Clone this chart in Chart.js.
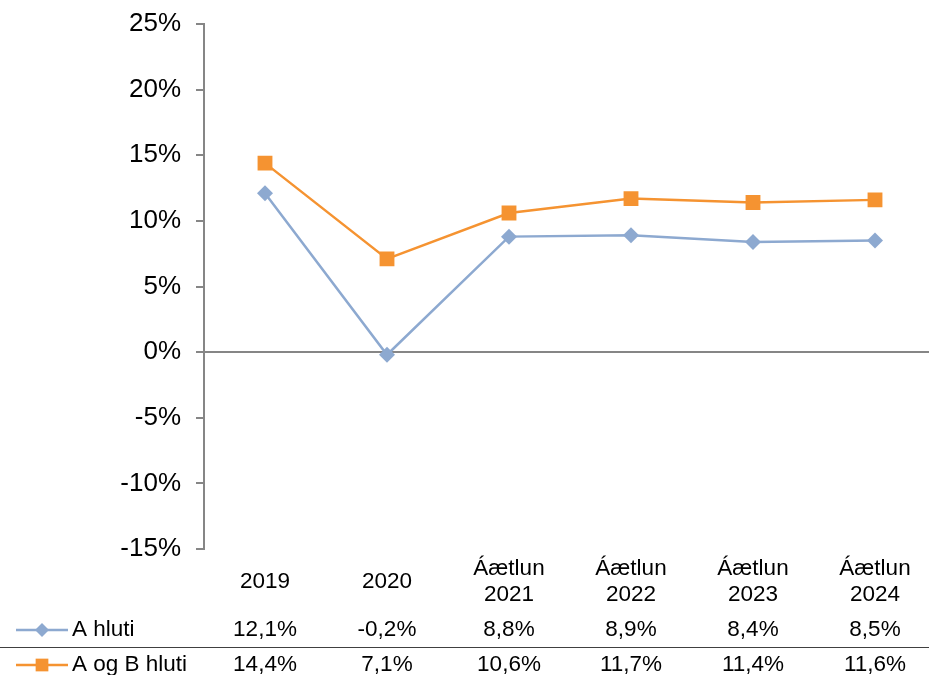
<!DOCTYPE html>
<html>
<head>
<meta charset="utf-8">
<script src="https://cdn.jsdelivr.net/npm/chart.js@4"></script>
<style>
  html, body { margin: 0; padding: 0; background: #ffffff; overflow: hidden; }
  #wrap { width: 960px; height: 675px; }
</style>
</head>
<body>
<div id="wrap"><canvas id="chart" width="960" height="675" style="width:960px;height:675px"></canvas></div>
<script>
// Gögn lesin af myndinni
const categories = [['2019'], ['2020'], ['Áætlun', '2021'], ['Áætlun', '2022'], ['Áætlun', '2023'], ['Áætlun', '2024']];
const seriesNames = ['A hluti', 'A og B hluti'];
const aHluti = [12.1, -0.2, 8.8, 8.9, 8.4, 8.5];
const aogBHluti = [14.4, 7.1, 10.6, 11.7, 11.4, 11.6];
const yTicks = [-15, -10, -5, 0, 5, 10, 15, 20, 25];

const BLUE = '#8DA9D0';
const ORANGE = '#F59331';
const AXIS = '#868686';
const FONT = "'Liberation Sans', Arial, sans-serif";

// snið talna eins og í töflunni (komma sem tugabrot)
function pct(v) {
    return v.toFixed(1).replace('.', ',') + '%';
}

// ======================== Tafla og flokkar undir grafinu ========================
const tablePlugin = {
    id: 'dataTable',
    afterDraw(chart) {
        const ctx = chart.ctx;
        const x = chart.scales.x;
        ctx.save();
        ctx.fillStyle = '#000000';
        ctx.textAlign = 'center';
        ctx.textBaseline = 'middle';
        ctx.font = '22.5px ' + FONT;

        // flokkaheiti (ein eða tvær línur, miðjað lóðrétt)
        categories.forEach((lines, i) => {
            const cx = x.getPixelForValue(i);
            const lh = 26;
            const y0 = 582 - (lines.length - 1) * lh / 2;
            lines.forEach((t, j) => ctx.fillText(t, cx, y0 + j * lh));
        });

        const rows = [
            { name: seriesNames[0], data: aHluti, color: BLUE, style: 'rectRot', r: 7, y: 630 },
            { name: seriesNames[1], data: aogBHluti, color: ORANGE, style: 'rect', r: 9, y: 665 }
        ];

        rows.forEach(row => {
            // lykill: lína + merki
            ctx.strokeStyle = row.color;
            ctx.lineWidth = 2.5;
            ctx.beginPath();
            ctx.moveTo(16, row.y);
            ctx.lineTo(68, row.y);
            ctx.stroke();
            ctx.fillStyle = row.color;
            Chart.helpers.drawPoint(ctx, { pointStyle: row.style, radius: row.r, borderWidth: 0 }, 42, row.y);

            ctx.fillStyle = '#000000';
            ctx.textAlign = 'left';
            ctx.fillText(row.name, 72, row.y);
            ctx.textAlign = 'center';
            row.data.forEach((v, i) => ctx.fillText(pct(v), x.getPixelForValue(i), row.y));
        });

        // skillína milli raða
        ctx.strokeStyle = '#404040';
        ctx.lineWidth = 1;
        ctx.beginPath();
        ctx.moveTo(0, 647.5);
        ctx.lineTo(960, 647.5);
        ctx.stroke();
        ctx.restore();
    }
};

new Chart(document.getElementById('chart').getContext('2d'), {
    type: 'line',
    data: {
        labels: categories.map(c => c.join(' ')),
        datasets: [{
            label: seriesNames[0],
            data: aHluti,
            borderColor: BLUE,
            backgroundColor: BLUE,
            borderWidth: 2.5,
            pointStyle: 'rectRot',
            pointRadius: 8,
            pointBorderWidth: 0,
            tension: 0
        }, {
            label: seriesNames[1],
            data: aogBHluti,
            borderColor: ORANGE,
            backgroundColor: ORANGE,
            borderWidth: 2.5,
            pointStyle: 'rect',
            pointRadius: 10.5,
            pointBorderWidth: 0,
            tension: 0
        }]
    },
    options: {
        responsive: false,
        animation: false,
        layout: { padding: { top: 24, right: 24, left: 0, bottom: 0 } },
        plugins: {
            legend: { display: false },
            tooltip: { enabled: false }
        },
        scales: {
            x: {
                offset: true,
                grid: { display: false },
                border: { display: false },
                ticks: { display: false },
                afterFit(scale) { scale.height = 126; }
            },
            y: {
                min: yTicks[0],
                max: yTicks[yTicks.length - 1],
                afterBuildTicks(scale) { scale.ticks = yTicks.map(v => ({ value: v })); },
                ticks: {
                    color: '#000000',
                    padding: 15,
                    font: { family: FONT, size: 26 },
                    callback: v => v + '%'
                },
                grid: {
                    color: c => (c.tick && c.tick.value === 0) ? AXIS : 'rgba(0,0,0,0)',
                    tickColor: AXIS,
                    tickLength: 8,
                    lineWidth: 2
                },
                border: { display: true, color: AXIS, width: 2 },
                afterFit(scale) {
                    scale.width = 204;
                    scale.paddingTop = 0;
                    scale.paddingBottom = 0;
                }
            }
        }
    },
    plugins: [tablePlugin]
});
</script>
</body>
</html>
